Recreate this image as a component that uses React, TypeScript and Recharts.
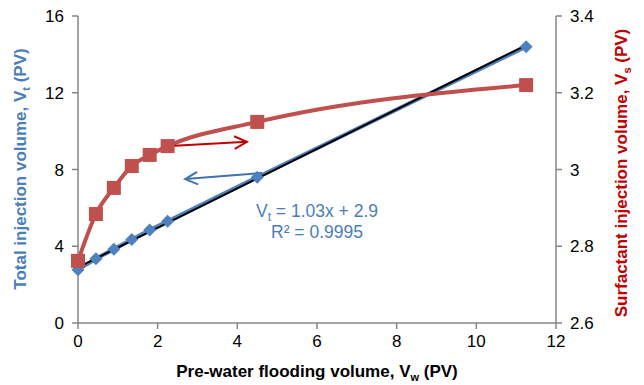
import React from 'react';
import { LineChart, Line, XAxis, YAxis, ReferenceLine, ReferenceDot } from 'recharts';

// Pre-water flooding volume Vw (PV)
const VW = [0, 0.45, 0.9, 1.35, 1.8, 2.25, 4.5, 11.25];
// Total injection volume Vt (PV)
const VT = [2.78, 3.35, 3.85, 4.35, 4.85, 5.3, 7.6, 14.4];
// Surfactant injection volume Vs (PV)
const VS = [2.762, 2.884, 2.952, 3.009, 3.038, 3.061, 3.124, 3.22];

const X_TICKS = [0, 2, 4, 6, 8, 10, 12];
const LEFT_TICKS = [0, 4, 8, 12, 16];
const RIGHT_TICKS = [2.6, 2.8, 3, 3.2, 3.4];

// Linear fit reported for Vt
const FIT_SLOPE = 1.03;
const FIT_INTERCEPT = 2.9;

const data = VW.map((x, i) => ({ x, vt: VT[i], vs: VS[i] }));
const fitData = [VW[0], VW[VW.length - 1]].map((x) => ({ x, fit: FIT_SLOPE * x + FIT_INTERCEPT }));

const BLUE = '#4F81BD';
const RED = '#C0504D';
const DARK_RED = '#C00000';
const TITLE_BLUE = '#4A7EBB';
const FONT = '"Liberation Sans", Arial, sans-serif';

const DiamondDot = (props: any) => {
  const { cx, cy, index } = props;
  if (cx == null || cy == null) return null;
  const r = 6.5;
  return (
    <polygon
      key={`d-${index}`}
      points={`${cx},${cy - r} ${cx + r},${cy} ${cx},${cy + r} ${cx - r},${cy}`}
      fill={BLUE}
    />
  );
};

const SquareDot = (props: any) => {
  const { cx, cy, index } = props;
  if (cx == null || cy == null) return null;
  const s = 14;
  return <rect key={`s-${index}`} x={cx - s / 2} y={cy - s / 2} width={s} height={s} fill={RED} />;
};

const arrowShape = (color: string) => (p: any) => {
  const { x1, y1, x2, y2 } = p;
  const a = Math.atan2(y2 - y1, x2 - x1);
  const len = 14;
  const spread = 0.47;
  const hx1 = x2 - len * Math.cos(a - spread);
  const hy1 = y2 - len * Math.sin(a - spread);
  const hx2 = x2 - len * Math.cos(a + spread);
  const hy2 = y2 - len * Math.sin(a + spread);
  return (
    <g>
      <line x1={x1} y1={y1} x2={x2} y2={y2} stroke={color} strokeWidth={2} />
      <polyline points={`${hx1},${hy1} ${x2},${y2} ${hx2},${hy2}`} fill="none" stroke={color} strokeWidth={2} />
    </g>
  );
};

const equationShape = (p: any) => {
  const { cx, cy } = p;
  return (
    <g fontFamily={FONT} fontSize={17.5} fill={TITLE_BLUE}>
      <text x={cx} y={cy - 5} textAnchor="middle">
        <tspan>V</tspan>
        <tspan fontSize={12} dy={4}>t</tspan>
        <tspan dy={-4}> = 1.03x + 2.9</tspan>
      </text>
      <text x={cx} y={cy + 16} textAnchor="middle">
        R² = 0.9995
      </text>
    </g>
  );
};

const XTitle = (props: any) => {
  const { viewBox } = props;
  const cx = viewBox.x + viewBox.width / 2;
  return (
    <text x={cx} y={377} textAnchor="middle" fontFamily={FONT} fontSize={17} fontWeight="bold" fill="#000">
      <tspan>Pre-water flooding volume, V</tspan>
      <tspan fontSize={11} dy={4}>w</tspan>
      <tspan dy={-4}> (PV)</tspan>
    </text>
  );
};

const LeftTitle = () => {
  const x = 26;
  const y = 169;
  return (
    <text
      x={x}
      y={y}
      transform={`rotate(-90, ${x}, ${y})`}
      textAnchor="middle"
      fontFamily={FONT}
      fontSize={17}
      fontWeight="bold"
      fill={TITLE_BLUE}
    >
      <tspan>Total injection volume, V</tspan>
      <tspan fontSize={11} dy={4}>t</tspan>
      <tspan dy={-4}> (PV)</tspan>
    </text>
  );
};

const RightTitle = () => {
  const x = 627;
  const y = 173;
  return (
    <text
      x={x}
      y={y}
      transform={`rotate(-90, ${x}, ${y})`}
      textAnchor="middle"
      fontFamily={FONT}
      fontSize={17}
      fontWeight="bold"
      fill={DARK_RED}
    >
      <tspan>Surfactant injection volume, V</tspan>
      <tspan fontSize={11} dy={4}>s</tspan>
      <tspan dy={-4}> (PV)</tspan>
    </text>
  );
};

const tickStyle = { fill: '#000', fontSize: 17, fontFamily: FONT };

export default function App() {
  return (
    <div style={{ position: 'absolute', left: 0, top: 0, width: 644, height: 385, background: '#fff' }}>
      <LineChart width={644} height={385} data={data} margin={{ top: 16, right: 30, bottom: 22, left: 20 }}>
        <XAxis
          type="number"
          dataKey="x"
          domain={[0, 12]}
          ticks={X_TICKS}
          height={40}
          stroke="#868686"
          strokeWidth={1.5}
          tick={tickStyle}
          tickMargin={6}
          label={<XTitle />}
        />
        <YAxis
          yAxisId="left"
          domain={[0, 16]}
          ticks={LEFT_TICKS}
          width={58}
          stroke="#868686"
          strokeWidth={1.5}
          tick={tickStyle}
          tickMargin={8}
          label={<LeftTitle />}
        />
        <YAxis
          yAxisId="right"
          orientation="right"
          domain={[2.6, 3.4]}
          ticks={RIGHT_TICKS}
          width={58}
          stroke="#868686"
          strokeWidth={1.5}
          tick={tickStyle}
          tickMargin={8}
          label={<RightTitle />}
        />
        <Line
          yAxisId="left"
          type="linear"
          dataKey="vt"
          stroke={BLUE}
          strokeWidth={4}
          dot={DiamondDot}
          activeDot={false}
          isAnimationActive={false}
        />
        <Line
          yAxisId="left"
          data={fitData}
          type="linear"
          dataKey="fit"
          stroke="#000"
          strokeWidth={2}
          dot={false}
          activeDot={false}
          isAnimationActive={false}
        />
        <Line
          yAxisId="right"
          type="monotone"
          dataKey="vs"
          stroke={RED}
          strokeWidth={4}
          dot={SquareDot}
          activeDot={false}
          isAnimationActive={false}
        />
        <ReferenceLine
          yAxisId="right"
          segment={[{ x: 2.31, y: 3.061 }, { x: 4.24, y: 3.072 }]}
          shape={arrowShape(DARK_RED)}
        />
        <ReferenceLine
          yAxisId="left"
          segment={[{ x: 4.62, y: 7.82 }, { x: 2.69, y: 7.5 }]}
          shape={arrowShape('#3F72AF')}
        />
        <ReferenceDot yAxisId="left" x={6.0} y={5.26} r={0} shape={equationShape} />
      </LineChart>
    </div>
  );
}
